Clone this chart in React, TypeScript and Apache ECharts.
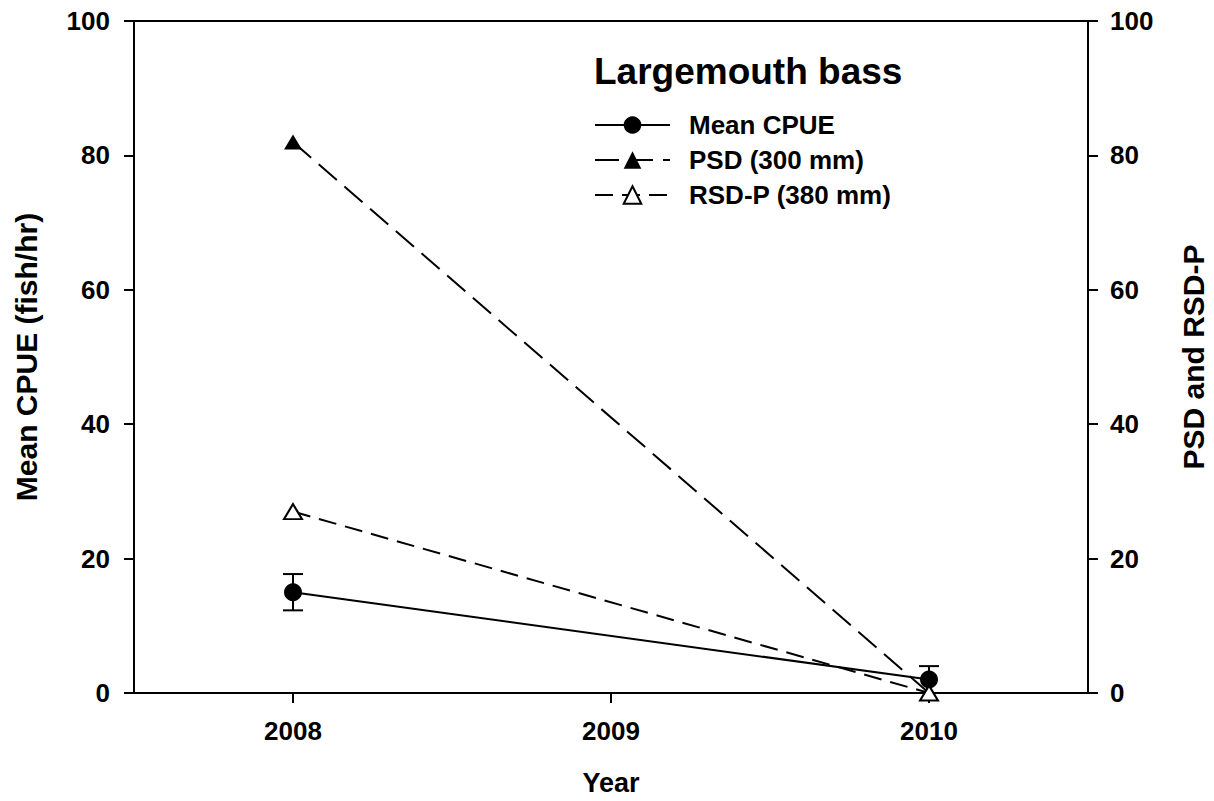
import React, { useEffect, useRef } from "react";
import * as echarts from "echarts";

// Sampling years and values per year (null = no sample)
const years = ["2008", "2009", "2010"];
const meanCpue = [15, null, 2];
const cpueError = [2.7, null, 2];
const psd300 = [82, null, 0];
const rsdp380 = [27, null, 0];
const leftTicks = { min: 0, max: 100, interval: 20 };
const rightTicks = { min: 0, max: 100, interval: 20 };

const FONT = '"Liberation Sans", Arial, Helvetica, sans-serif';

export default function App() {
  const ref = useRef<HTMLDivElement>(null);

  useEffect(() => {
    document.body.style.margin = "0";
    if (!ref.current) return;
    const chart = echarts.init(ref.current, undefined, { renderer: "svg" });

    const errData = years
      .map((_, i) => (meanCpue[i] == null ? null : [i, meanCpue[i], cpueError[i]]))
      .filter((d) => d !== null);

    const axisLine = { show: true, lineStyle: { color: "#000", width: 2 } };
    const axisTick = { show: true, inside: false, length: 10, lineStyle: { color: "#000", width: 2 } };
    const tickLabel = { color: "#000", fontFamily: FONT, fontWeight: "bold", fontSize: 26 };
    const nameStyle = { color: "#000", fontFamily: FONT, fontWeight: "bold", fontSize: 30 };

    chart.setOption({
      animation: false,
      backgroundColor: "#fff",
      title: {
        text: "Largemouth bass",
        left: 594,
        top: 53,
        padding: 0,
        textStyle: { color: "#000", fontFamily: FONT, fontWeight: "bold", fontSize: 37 },
      },
      legend: {
        data: ["Mean CPUE", "PSD (300 mm)", "RSD-P (380 mm)"],
        orient: "vertical",
        left: 594,
        top: 112,
        padding: 0,
        itemWidth: 75,
        itemHeight: 22,
        itemGap: 9,
        textStyle: {
          color: "#000",
          fontFamily: FONT,
          fontWeight: "bold",
          fontSize: 26,
          padding: [0, 0, 0, 14],
        },
      },
      grid: {
        left: 134,
        right: 126,
        top: 21,
        bottom: 108,
        outerBoundsMode: "none",
        containLabel: false,
        show: true,
        borderColor: "#000",
        borderWidth: 2,
        backgroundColor: "transparent",
      },
      xAxis: {
        type: "category",
        data: years,
        boundaryGap: true,
        name: "Year",
        nameLocation: "middle",
        nameGap: 76,
        nameTextStyle: { ...nameStyle, fontSize: 27 },
        axisLine,
        axisTick: { ...axisTick, alignWithLabel: true },
        axisLabel: { ...tickLabel, margin: 25 },
        splitLine: { show: false },
      },
      yAxis: [
        {
          type: "value",
          position: "left",
          ...leftTicks,
          name: "Mean CPUE (fish/hr)",
          nameLocation: "middle",
          nameGap: 93,
          nameTextStyle: nameStyle,
          axisLine,
          axisTick,
          axisLabel: { ...tickLabel, margin: 24 },
          splitLine: { show: false },
        },
        {
          type: "value",
          position: "right",
          ...rightTicks,
          name: "PSD and RSD-P",
          nameLocation: "middle",
          nameGap: 90,
          nameRotate: 90,
          nameTextStyle: nameStyle,
          axisLine,
          axisTick,
          axisLabel: { ...tickLabel, margin: 22 },
          splitLine: { show: false },
        },
      ],
      series: [
        {
          name: "CPUE error",
          type: "custom",
          xAxisIndex: 0,
          yAxisIndex: 0,
          data: errData,
          z: 1,
          renderItem: (params: any, api: any) => {
            const x = api.value(0);
            const y = api.value(1);
            const e = api.value(2);
            const top = api.coord([x, y + e]);
            const bot = api.coord([x, y - e]);
            const cap = 10;
            const style = { stroke: "#000", lineWidth: 2 };
            return {
              type: "group",
              children: [
                { type: "line", shape: { x1: top[0], y1: top[1], x2: bot[0], y2: bot[1] }, style },
                { type: "line", shape: { x1: top[0] - cap, y1: top[1], x2: top[0] + cap, y2: top[1] }, style },
                { type: "line", shape: { x1: bot[0] - cap, y1: bot[1], x2: bot[0] + cap, y2: bot[1] }, style },
              ],
            };
          },
        },
        {
          name: "Mean CPUE",
          type: "line",
          yAxisIndex: 0,
          data: meanCpue,
          connectNulls: true,
          symbol: "circle",
          symbolSize: 18,
          z: 3,
          lineStyle: { color: "#000", width: 2, type: "solid" },
          itemStyle: { color: "#000" },
        },
        {
          name: "PSD (300 mm)",
          type: "line",
          yAxisIndex: 1,
          data: psd300,
          connectNulls: true,
          symbol: "triangle",
          symbolSize: [18, 15],
          z: 4,
          lineStyle: { color: "#000", width: 2, type: [24, 10] },
          itemStyle: { color: "#000" },
        },
        {
          name: "RSD-P (380 mm)",
          type: "line",
          yAxisIndex: 1,
          data: rsdp380,
          connectNulls: true,
          symbol: "triangle",
          symbolSize: [18, 15],
          z: 5,
          lineStyle: { color: "#000", width: 2, type: [18, 9] },
          itemStyle: { color: "#fff", borderColor: "#000", borderWidth: 2 },
        },
      ],
    });

    return () => chart.dispose();
  }, []);

  return <div ref={ref} style={{ width: 1214, height: 801 }} />;
}
